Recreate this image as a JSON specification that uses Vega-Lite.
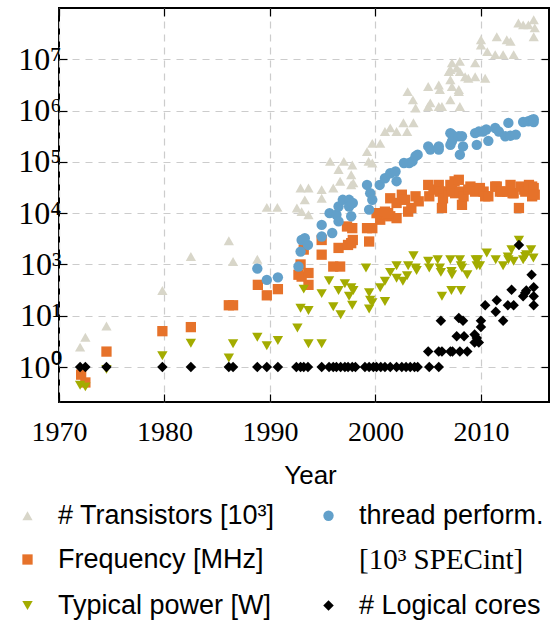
{
"$schema": "https://vega.github.io/schema/vega-lite/v6.json",
"width": 490, "height": 394,
"autosize": {"type": "none"},
"padding": {"left": 59, "top": 8, "right": 1, "bottom": 219},
"background": "white",
"config": {
  "view": {"stroke": "black", "strokeWidth": 2},
  "axis": {"labelFont": "Liberation Serif", "labelColor": "black", "tickColor": "black", "tickWidth": 1.2, "domain": false, "gridColor": "#cccccc", "gridDash": [7, 6], "gridWidth": 1.2, "titleFont": "Liberation Sans", "titleColor": "black", "titleFontWeight": "normal", "labelFlush": false},
  "legend": {"orient": "none", "legendX": -45, "legendY": 494, "columns": 2, "symbolSize": 290, "labelFont": "Liberation Sans", "labelFontSize": 27, "labelColor": "black", "rowPadding": 16, "columnPadding": 40, "labelOffset": 17, "symbolStrokeWidth": 0, "labelLimit": 400}
},
"data": {"values": [
{"s":"tr","year":1972.0,"value":2.45},{"s":"tr","year":1972.5,"value":3.8},{"s":"tr","year":1974.5,"value":6.3},{"s":"tr","year":1979.8,"value":31},{"s":"tr","year":1982.5,"value":143},{"s":"tr","year":1986.1,"value":290},{"s":"tr","year":1986.5,"value":114},{"s":"tr","year":1988.8,"value":126},{"s":"tr","year":1989.7,"value":1300},{"s":"tr","year":1990.7,"value":1300},{"s":"tr","year":1992.55,"value":1260},{"s":"tr","year":1993.0,"value":1070},{"s":"tr","year":1993.65,"value":930},{"s":"tr","year":1992.9,"value":3100},{"s":"tr","year":1993.65,"value":3100},{"s":"tr","year":1993.3,"value":1820},{"s":"tr","year":1994.9,"value":2880},{"s":"tr","year":1994.9,"value":1950},{"s":"tr","year":1995.7,"value":10200},{"s":"tr","year":1996.0,"value":3100},{"s":"tr","year":1996.5,"value":7100},{"s":"tr","year":1996.65,"value":4200},{"s":"tr","year":1997.0,"value":10200},{"s":"tr","year":1997.7,"value":5600},{"s":"tr","year":1997.7,"value":3550},{"s":"tr","year":1997.8,"value":8700},{"s":"tr","year":1997.9,"value":3900},{"s":"tr","year":1999.2,"value":15800},{"s":"tr","year":1999.35,"value":10200},{"s":"tr","year":1999.7,"value":9500},{"s":"tr","year":1999.7,"value":23000},{"s":"tr","year":2000.45,"value":23000},{"s":"tr","year":2000.9,"value":39000},{"s":"tr","year":2001.4,"value":46000},{"s":"tr","year":2002.0,"value":39000},{"s":"tr","year":2002.65,"value":58000},{"s":"tr","year":2003.0,"value":39000},{"s":"tr","year":2003.6,"value":58000},{"s":"tr","year":2003.8,"value":112000},{"s":"tr","year":2003.05,"value":234000},{"s":"tr","year":2003.55,"value":162000},{"s":"tr","year":2005.0,"value":295000},{"s":"tr","year":2005.0,"value":120000},{"s":"tr","year":2005.2,"value":141000},{"s":"tr","year":2006.0,"value":316000},{"s":"tr","year":2006.0,"value":120000},{"s":"tr","year":2006.1,"value":257000},{"s":"tr","year":2006.3,"value":120000},{"s":"tr","year":2006.95,"value":575000},{"s":"tr","year":2007.1,"value":400000},{"s":"tr","year":2007.1,"value":631000},{"s":"tr","year":2007.25,"value":295000},{"s":"tr","year":2007.25,"value":850000},{"s":"tr","year":2007.1,"value":162000},{"s":"tr","year":2007.9,"value":257000},{"s":"tr","year":2007.9,"value":234000},{"s":"tr","year":2008.0,"value":120000},{"s":"tr","year":2008.0,"value":910000},{"s":"tr","year":2007.7,"value":676000},{"s":"tr","year":2008.0,"value":575000},{"s":"tr","year":2008.5,"value":457000},{"s":"tr","year":2008.8,"value":427000},{"s":"tr","year":2009.45,"value":457000},{"s":"tr","year":2009.45,"value":850000},{"s":"tr","year":2010.4,"value":427000},{"s":"tr","year":2010.0,"value":2400000},{"s":"tr","year":2010.0,"value":1900000},{"s":"tr","year":2010.6,"value":1410000},{"s":"tr","year":2011.5,"value":2750000},{"s":"tr","year":2012.45,"value":2400000},{"s":"tr","year":2012.8,"value":2240000},{"s":"tr","year":2011.35,"value":1230000},{"s":"tr","year":2012.1,"value":1230000},{"s":"tr","year":2013.1,"value":1230000},{"s":"tr","year":2013.55,"value":5100000},{"s":"tr","year":2014.0,"value":4700000},{"s":"tr","year":2014.5,"value":4700000},{"s":"tr","year":2015.0,"value":5900000},{"s":"tr","year":2015.1,"value":4100000},{"s":"tr","year":2015.0,"value":2750000},
{"s":"fr","year":1972.1,"value":0.71},{"s":"fr","year":1972.5,"value":0.5},{"s":"fr","year":1974.5,"value":2},{"s":"fr","year":1979.8,"value":5},{"s":"fr","year":1982.5,"value":6},{"s":"fr","year":1986.1,"value":16},{"s":"fr","year":1986.5,"value":16},{"s":"fr","year":1988.85,"value":40},{"s":"fr","year":1989.7,"value":25},{"s":"fr","year":1990.75,"value":33},{"s":"fr","year":1992.7,"value":63},{"s":"fr","year":1992.9,"value":100},{"s":"fr","year":1993.0,"value":58},{"s":"fr","year":1993.65,"value":68},{"s":"fr","year":1993.65,"value":40},{"s":"fr","year":1993.2,"value":195},{"s":"fr","year":1994.9,"value":300},{"s":"fr","year":1994.9,"value":155},{"s":"fr","year":1996.0,"value":91},{"s":"fr","year":1996.65,"value":91},{"s":"fr","year":1996.5,"value":210},{"s":"fr","year":1997.4,"value":240},{"s":"fr","year":1997.7,"value":260},{"s":"fr","year":1997.85,"value":300},{"s":"fr","year":1997.3,"value":550},{"s":"fr","year":1997.8,"value":510},{"s":"fr","year":1999.2,"value":510},{"s":"fr","year":1999.7,"value":510},{"s":"fr","year":1999.4,"value":280},{"s":"fr","year":2000.45,"value":745},{"s":"fr","year":2000.9,"value":930},{"s":"fr","year":2001.4,"value":870},{"s":"fr","year":2002.0,"value":800},{"s":"fr","year":2000.1,"value":1000},{"s":"fr","year":2000.9,"value":1070},{"s":"fr","year":2001.2,"value":1000},{"s":"fr","year":2001.4,"value":1950},{"s":"fr","year":2002.0,"value":1580},{"s":"fr","year":2002.5,"value":2290},{"s":"fr","year":2002.8,"value":1820},{"s":"fr","year":2003.1,"value":1070},{"s":"fr","year":2003.4,"value":1260},{"s":"fr","year":2003.8,"value":2130},{"s":"fr","year":2004.1,"value":1700},{"s":"fr","year":2005.0,"value":3550},{"s":"fr","year":2005.1,"value":2130},{"s":"fr","year":2005.5,"value":2880},{"s":"fr","year":2006.0,"value":3550},{"s":"fr","year":2006.1,"value":2630},{"s":"fr","year":2006.3,"value":1260},{"s":"fr","year":2006.4,"value":1950},{"s":"fr","year":2006.9,"value":2630},{"s":"fr","year":2007.1,"value":3550},{"s":"fr","year":2007.25,"value":2880},{"s":"fr","year":2007.5,"value":4170},{"s":"fr","year":2007.55,"value":2450},{"s":"fr","year":2007.9,"value":4470},{"s":"fr","year":2008.0,"value":2630},{"s":"fr","year":2008.2,"value":1450},{"s":"fr","year":2008.35,"value":2130},{"s":"fr","year":2008.8,"value":2880},{"s":"fr","year":2009.0,"value":3300},{"s":"fr","year":2009.45,"value":2630},{"s":"fr","year":2009.9,"value":3090},{"s":"fr","year":2010.25,"value":2630},{"s":"fr","year":2010.4,"value":2130},{"s":"fr","year":2010.7,"value":2130},{"s":"fr","year":2011.35,"value":3300},{"s":"fr","year":2011.5,"value":3300},{"s":"fr","year":2011.8,"value":2630},{"s":"fr","year":2012.0,"value":2630},{"s":"fr","year":2012.5,"value":2630},{"s":"fr","year":2012.8,"value":3550},{"s":"fr","year":2013.0,"value":2450},{"s":"fr","year":2013.1,"value":2450},{"s":"fr","year":2013.6,"value":1260},{"s":"fr","year":2013.75,"value":3300},{"s":"fr","year":2014.1,"value":2880},{"s":"fr","year":2014.2,"value":2630},{"s":"fr","year":2014.55,"value":3550},{"s":"fr","year":2014.85,"value":3300},{"s":"fr","year":2014.85,"value":2130},{"s":"fr","year":2015.0,"value":3090},{"s":"fr","year":2015.1,"value":2290},
{"s":"th","year":1988.8,"value":83},{"s":"th","year":1989.7,"value":50},{"s":"th","year":1990.75,"value":56},{"s":"th","year":1992.7,"value":91},{"s":"th","year":1992.9,"value":178},{"s":"th","year":1993.0,"value":300},{"s":"th","year":1993.3,"value":325},{"s":"th","year":1993.6,"value":240},{"s":"th","year":1994.9,"value":590},{"s":"th","year":1994.9,"value":350},{"s":"th","year":1995.65,"value":1000},{"s":"th","year":1995.9,"value":410},{"s":"th","year":1996.3,"value":930},{"s":"th","year":1996.5,"value":1350},{"s":"th","year":1996.5,"value":690},{"s":"th","year":1996.9,"value":1820},{"s":"th","year":1997.5,"value":1820},{"s":"th","year":1997.5,"value":1350},{"s":"th","year":1997.7,"value":870},{"s":"th","year":1997.85,"value":1580},{"s":"th","year":1999.2,"value":3550},{"s":"th","year":1999.5,"value":2450},{"s":"th","year":1999.7,"value":1820},{"s":"th","year":1999.4,"value":1170},{"s":"th","year":2000.4,"value":3550},{"s":"th","year":2000.9,"value":4800},{"s":"th","year":2001.4,"value":6000},{"s":"th","year":2001.9,"value":6500},{"s":"th","year":2002.0,"value":4200},{"s":"th","year":2002.7,"value":9500},{"s":"th","year":2003.2,"value":9500},{"s":"th","year":2003.5,"value":10200},{"s":"th","year":2003.8,"value":12900},{"s":"th","year":2004.0,"value":13800},{"s":"th","year":2005.0,"value":20000},{"s":"th","year":2005.2,"value":17400},{"s":"th","year":2006.0,"value":20000},{"s":"th","year":2006.0,"value":17400},{"s":"th","year":2007.1,"value":36300},{"s":"th","year":2007.25,"value":34000},{"s":"th","year":2007.1,"value":21400},{"s":"th","year":2007.25,"value":25100},{"s":"th","year":2007.9,"value":31600},{"s":"th","year":2008.2,"value":31600},{"s":"th","year":2008.0,"value":13800},{"s":"th","year":2008.3,"value":20000},{"s":"th","year":2009.45,"value":36300},{"s":"th","year":2009.8,"value":39000},{"s":"th","year":2009.6,"value":21400},{"s":"th","year":2010.2,"value":39000},{"s":"th","year":2010.5,"value":42700},{"s":"th","year":2010.7,"value":25700},{"s":"th","year":2011.35,"value":45700},{"s":"th","year":2011.7,"value":39000},{"s":"th","year":2012.3,"value":31600},{"s":"th","year":2012.6,"value":57500},{"s":"th","year":2012.8,"value":32400},{"s":"th","year":2013.3,"value":34000},{"s":"th","year":2014.0,"value":60000},{"s":"th","year":2014.5,"value":62000},{"s":"th","year":2014.8,"value":66000},{"s":"th","year":2015.0,"value":68000},{"s":"th","year":2015.0,"value":60000},
{"s":"pw","year":1972.0,"value":0.44},{"s":"pw","year":1972.5,"value":0.41},{"s":"pw","year":1974.5,"value":0.9},{"s":"pw","year":1979.8,"value":1.66},{"s":"pw","year":1982.5,"value":2.9},{"s":"pw","year":1986.1,"value":1.5},{"s":"pw","year":1986.5,"value":2.85},{"s":"pw","year":1988.8,"value":3.8},{"s":"pw","year":1989.7,"value":2.6},{"s":"pw","year":1990.75,"value":3.3},{"s":"pw","year":1992.6,"value":5.75},{"s":"pw","year":1992.9,"value":14},{"s":"pw","year":1993.65,"value":12.7},{"s":"pw","year":1993.2,"value":33},{"s":"pw","year":1993.65,"value":2.85},{"s":"pw","year":1994.9,"value":2.85},{"s":"pw","year":1994.9,"value":27},{"s":"pw","year":1995.6,"value":48},{"s":"pw","year":1996.0,"value":15},{"s":"pw","year":1996.5,"value":31},{"s":"pw","year":1996.7,"value":10.5},{"s":"pw","year":1997.1,"value":42},{"s":"pw","year":1997.5,"value":24},{"s":"pw","year":1997.7,"value":35},{"s":"pw","year":1997.9,"value":31},{"s":"pw","year":1997.8,"value":16},{"s":"pw","year":1999.1,"value":85},{"s":"pw","year":1999.4,"value":28},{"s":"pw","year":1999.5,"value":20},{"s":"pw","year":1999.7,"value":18},{"s":"pw","year":1999.4,"value":13.5},{"s":"pw","year":2000.45,"value":35},{"s":"pw","year":2000.9,"value":47},{"s":"pw","year":2000.9,"value":19},{"s":"pw","year":2001.4,"value":70},{"s":"pw","year":2002.0,"value":94},{"s":"pw","year":2002.0,"value":54},{"s":"pw","year":2002.6,"value":47},{"s":"pw","year":2003.0,"value":60},{"s":"pw","year":2003.1,"value":94},{"s":"pw","year":2003.6,"value":148},{"s":"pw","year":2003.9,"value":76},{"s":"pw","year":2003.8,"value":85},{"s":"pw","year":2005.0,"value":115},{"s":"pw","year":2005.1,"value":85},{"s":"pw","year":2005.9,"value":123},{"s":"pw","year":2006.1,"value":85},{"s":"pw","year":2006.2,"value":70},{"s":"pw","year":2006.3,"value":24},{"s":"pw","year":2007.1,"value":123},{"s":"pw","year":2007.2,"value":73},{"s":"pw","year":2007.25,"value":63},{"s":"pw","year":2007.2,"value":31},{"s":"pw","year":2008.0,"value":123},{"s":"pw","year":2008.1,"value":94},{"s":"pw","year":2008.2,"value":85},{"s":"pw","year":2008.1,"value":31},{"s":"pw","year":2008.7,"value":63},{"s":"pw","year":2009.5,"value":123},{"s":"pw","year":2009.6,"value":94},{"s":"pw","year":2009.9,"value":94},{"s":"pw","year":2009.7,"value":123},{"s":"pw","year":2010.55,"value":167},{"s":"pw","year":2011.4,"value":123},{"s":"pw","year":2012.1,"value":94},{"s":"pw","year":2012.55,"value":140},{"s":"pw","year":2012.9,"value":194},{"s":"pw","year":2013.1,"value":115},{"s":"pw","year":2012.6,"value":123},{"s":"pw","year":2013.6,"value":295},{"s":"pw","year":2014.0,"value":123},{"s":"pw","year":2014.2,"value":143},{"s":"pw","year":2014.3,"value":155},{"s":"pw","year":2014.75,"value":194},{"s":"pw","year":2014.97,"value":133},
{"s":"co","year":1972.0,"value":1},{"s":"co","year":1972.5,"value":1},{"s":"co","year":1974.5,"value":1},{"s":"co","year":1979.8,"value":1},{"s":"co","year":1982.5,"value":1},{"s":"co","year":1986.1,"value":1},{"s":"co","year":1986.5,"value":1},{"s":"co","year":1988.8,"value":1},{"s":"co","year":1989.7,"value":1},{"s":"co","year":1990.75,"value":1},{"s":"co","year":1992.5,"value":1},{"s":"co","year":1992.9,"value":1},{"s":"co","year":1993.2,"value":1},{"s":"co","year":1993.6,"value":1},{"s":"co","year":1994.9,"value":1},{"s":"co","year":1995.6,"value":1},{"s":"co","year":1996.0,"value":1},{"s":"co","year":1996.3,"value":1},{"s":"co","year":1996.7,"value":1},{"s":"co","year":1997.1,"value":1},{"s":"co","year":1997.4,"value":1},{"s":"co","year":1997.8,"value":1},{"s":"co","year":1998.1,"value":1},{"s":"co","year":1999.0,"value":1},{"s":"co","year":1999.4,"value":1},{"s":"co","year":1999.8,"value":1},{"s":"co","year":2000.1,"value":1},{"s":"co","year":2000.5,"value":1},{"s":"co","year":2000.9,"value":1},{"s":"co","year":2001.4,"value":1},{"s":"co","year":2002.0,"value":1},{"s":"co","year":2002.5,"value":1},{"s":"co","year":2002.9,"value":1},{"s":"co","year":2003.3,"value":1},{"s":"co","year":2003.7,"value":1},{"s":"co","year":2004.0,"value":1},{"s":"co","year":2005.1,"value":1},{"s":"co","year":2006.0,"value":1},{"s":"co","year":2005.0,"value":2},{"s":"co","year":2006.0,"value":2},{"s":"co","year":2006.3,"value":2},{"s":"co","year":2007.1,"value":2},{"s":"co","year":2007.3,"value":2},{"s":"co","year":2008.0,"value":2},{"s":"co","year":2008.7,"value":2},{"s":"co","year":2007.7,"value":4},{"s":"co","year":2008.4,"value":4},{"s":"co","year":2006.2,"value":8},{"s":"co","year":2007.9,"value":9},{"s":"co","year":2008.3,"value":8},{"s":"co","year":2009.4,"value":4.3},{"s":"co","year":2009.6,"value":3.7},{"s":"co","year":2009.4,"value":3},{"s":"co","year":2009.8,"value":3},{"s":"co","year":2010.0,"value":8},{"s":"co","year":2010.0,"value":6},{"s":"co","year":2010.4,"value":16},{"s":"co","year":2011.4,"value":12},{"s":"co","year":2011.5,"value":20},{"s":"co","year":2012.1,"value":8},{"s":"co","year":2012.55,"value":16},{"s":"co","year":2013.1,"value":16},{"s":"co","year":2012.9,"value":32},{"s":"co","year":2013.6,"value":240},{"s":"co","year":2014.0,"value":24},{"s":"co","year":2014.2,"value":28},{"s":"co","year":2014.3,"value":31},{"s":"co","year":2014.8,"value":63},{"s":"co","year":2015.0,"value":36},{"s":"co","year":2015.0,"value":24},{"s":"co","year":2015.0,"value":16}
]},
"layer": [
  {"mark": {"type": "point", "filled": true, "opacity": 1, "strokeWidth": 0},
   "encoding": {
     "x": {"field": "year", "type": "quantitative", "scale": {"domain": [1970, 2016.45], "nice": false, "zero": false},
           "axis": {"values": [1970, 1980, 1990, 2000, 2010], "format": "d", "labelFontSize": 28, "tickSize": -8, "labelPadding": 24, "labelFlush": false, "title": "Year", "titleFontSize": 26, "titlePadding": 16, "titleX": 251, "grid": true}},
     "y": {"field": "value", "type": "quantitative", "scale": {"type": "log", "domain": [0.208, 10000000], "nice": false},
           "axis": {"values": [1, 10, 100, 1000, 10000, 100000, 1000000], "labelExpr": "['10⁰','10¹','10³','10⁴','10⁵','10⁶','10⁷'][round(log(datum.value)/LN10)]", "labelFontSize": 32, "tickSize": -8, "labelPadding": 6, "title": null, "grid": true}},
     "color": {"field": "s", "type": "nominal",
               "scale": {"domain": ["tr", "fr", "pw", "th", "sp", "co"], "range": ["#d8d6c9", "#e6722a", "#a3ac00", "#62a0ca", "transparent", "#000000"]},
               "legend": {"title": null, "direction": "vertical",
                          "labelExpr": "datum.value == 'tr' ? '# Transistors [10³]' : datum.value == 'th' ? 'thread perform.' : datum.value == 'fr' ? 'Frequency [MHz]' : datum.value == 'sp' ? '[10³ SPECint]' : datum.value == 'pw' ? 'Typical power [W]' : '# Logical cores'",
                          "labelFont": {"expr": "datum.value == 'sp' ? 'Liberation Serif' : 'Liberation Sans'"},
                          "labelFontSize": {"expr": "datum.value == 'sp' ? 29 : 27"}}},
     "shape": {"field": "s", "type": "nominal",
               "scale": {"domain": ["tr", "fr", "pw", "th", "sp", "co"], "range": ["triangle-up", "square", "triangle-down", "circle", "circle", "diamond"]}},
     "size": {"field": "s", "type": "ordinal",
              "scale": {"domain": ["tr", "fr", "pw", "th", "sp", "co"], "range": [105, 110, 110, 85, 0, 72]}, "legend": null}
   }},
  {"mark": {"type": "point", "opacity": 0},
   "encoding": {
     "x": {"field": "year", "type": "quantitative", "axis": {"orient": "top", "values": [1970, 1980, 1990, 2000, 2010], "labels": false, "tickSize": -8, "grid": false, "title": null}},
     "y": {"field": "value", "type": "quantitative", "scale": {"type": "log"}, "axis": {"orient": "right", "values": [1, 10, 100, 1000, 10000, 100000, 1000000], "labels": false, "tickSize": -8, "grid": false, "title": null}}
   }}
],
"resolve": {"axis": {"x": "independent", "y": "independent"}}
}
